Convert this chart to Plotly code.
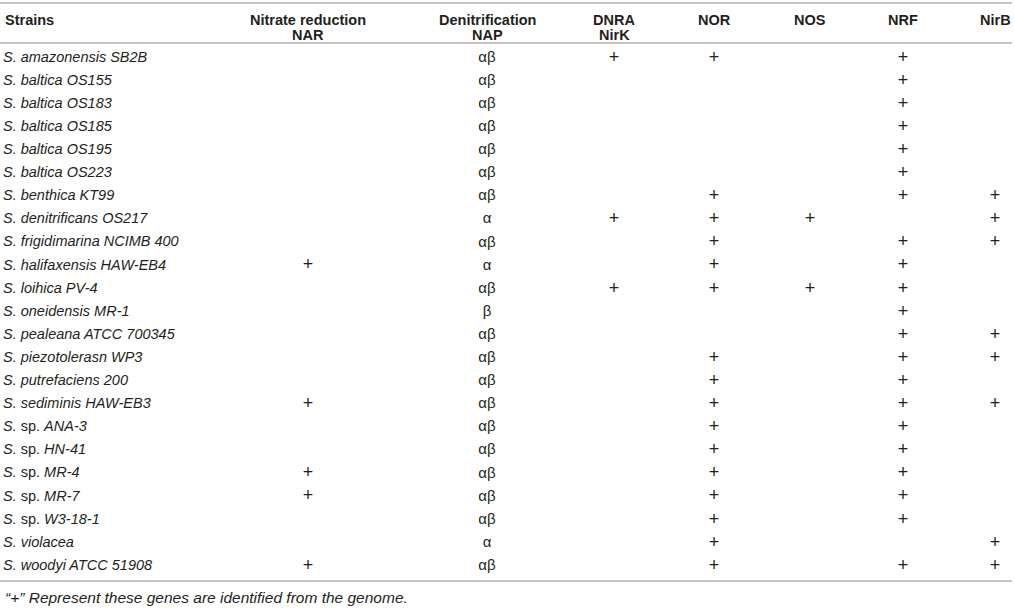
import plotly.graph_objects as go

# ------------------------------- DATA -------------------------------
STRAINS = [
    "<i>S. amazonensis SB2B</i>",
    "<i>S. baltica OS155</i>",
    "<i>S. baltica OS183</i>",
    "<i>S. baltica OS185</i>",
    "<i>S. baltica OS195</i>",
    "<i>S. baltica OS223</i>",
    "<i>S. benthica KT99</i>",
    "<i>S. denitrificans OS217</i>",
    "<i>S. frigidimarina NCIMB 400</i>",
    "<i>S. halifaxensis HAW-EB4</i>",
    "<i>S. loihica PV-4</i>",
    "<i>S. oneidensis MR-1</i>",
    "<i>S. pealeana ATCC 700345</i>",
    "<i>S. piezotolerasn WP3</i>",
    "<i>S. putrefaciens 200</i>",
    "<i>S. sediminis HAW-EB3</i>",
    "<i>S.</i> sp. <i>ANA-3</i>",
    "<i>S.</i> sp. <i>HN-41</i>",
    "<i>S.</i> sp. <i>MR-4</i>",
    "<i>S.</i> sp. <i>MR-7</i>",
    "<i>S.</i> sp. <i>W3-18-1</i>",
    "<i>S. violacea</i>",
    "<i>S. woodyi ATCC 51908</i>",
]

NAR  = ["", "", "", "", "", "", "", "", "", "+", "", "", "", "", "", "+", "", "", "+", "+", "", "", "+"]
NAP  = ["αβ", "αβ", "αβ", "αβ", "αβ", "αβ", "αβ", "α", "αβ", "α", "αβ", "β", "αβ", "αβ", "αβ", "αβ",
        "αβ", "αβ", "αβ", "αβ", "αβ", "α", "αβ"]
NIRK = ["+", "", "", "", "", "", "", "+", "", "", "+", "", "", "", "", "", "", "", "", "", "", "", ""]
NOR  = ["+", "", "", "", "", "", "+", "+", "+", "+", "+", "", "", "+", "+", "+", "+", "+", "+", "+", "+", "+", "+"]
NOS  = ["", "", "", "", "", "", "", "+", "", "", "+", "", "", "", "", "", "", "", "", "", "", "", ""]
NRF  = ["+", "+", "+", "+", "+", "+", "+", "", "+", "+", "+", "+", "+", "+", "+", "+", "+", "+", "+", "+", "+", "", "+"]
NIRB = ["", "", "", "", "", "", "+", "+", "+", "", "", "", "+", "+", "", "+", "", "", "", "", "", "+", "+"]

HEADER_TOP = ["Nitrate reduction", "Denitrification", "DNRA", "NOR", "NOS", "NRF", "NirB"]
HEADER_SUB = ["NAR", "NAP", "NirK", "", "", "", ""]
FOOTNOTE = "<i>“+” Represent these genes are identified from the genome.</i>"

# ------------------------------- LAYOUT -------------------------------
W, H = 1014, 608
COL_X = [308, 487, 614, 714, 810, 903, 995]   # column centres, px
NAME_X = 3
FIRST_ROW_PX, ROW_PITCH = 58, 23.1
TEXT_COLOR = "#231f20"
LINE_COLOR = "#c4c4c4"
FONT = "Liberation Sans"


def py(px):
    """pixel from top -> paper y"""
    return 1 - px / H


columns = [NAR, NAP, NIRK, NOR, NOS, NRF, NIRB]
rows = list(range(len(STRAINS)))

fig = go.Figure()

fig.add_trace(go.Scatter(
    x=[NAME_X] * len(STRAINS), y=rows, text=STRAINS, mode="text",
    textposition="middle right",
    textfont=dict(family=FONT, size=14.5, color=TEXT_COLOR),
    hoverinfo="skip", showlegend=False,
))

for cx, values in zip(COL_X, columns):
    # pluses drawn a bit larger than the greek letters
    sizes = [18 if v == "+" else 15 for v in values]
    fig.add_trace(go.Scatter(
        x=[cx] * len(values), y=rows, text=values, mode="text",
        textposition="middle center",
        textfont=dict(family=FONT, size=sizes, color=TEXT_COLOR),
        hoverinfo="skip", showlegend=False,
    ))

# header texts
hfont = dict(family=FONT, size=14.5, color=TEXT_COLOR)
annotations = [dict(x=NAME_X, y=py(20), xref="x", yref="paper", text="<b>Strains</b>",
                    xanchor="left", yanchor="middle", showarrow=False, font=hfont)]
for cx, top, sub in zip(COL_X, HEADER_TOP, HEADER_SUB):
    annotations.append(dict(x=cx, y=py(20), xref="x", yref="paper", text=f"<b>{top}</b>",
                            xanchor="center", yanchor="middle", showarrow=False, font=hfont))
    if sub:
        annotations.append(dict(x=cx, y=py(35), xref="x", yref="paper", text=f"<b>{sub}</b>",
                                xanchor="center", yanchor="middle", showarrow=False, font=hfont))
annotations.append(dict(x=NAME_X, y=py(597), xref="x", yref="paper", text=FOOTNOTE,
                        xanchor="left", yanchor="middle", showarrow=False,
                        font=dict(family=FONT, size=15.5, color=TEXT_COLOR)))

# horizontal rules
shapes = [
    dict(type="line", xref="x", yref="paper", x0=0, x1=1012, y0=py(p), y1=py(p),
         line=dict(color=LINE_COLOR, width=2))
    for p in (3, 43, 581)
]

y_top = -FIRST_ROW_PX / ROW_PITCH
y_bot = (H - FIRST_ROW_PX) / ROW_PITCH

fig.update_layout(
    width=W, height=H,
    margin=dict(l=0, r=0, t=0, b=0),
    paper_bgcolor="white", plot_bgcolor="white",
    font=dict(family=FONT, size=14, color=TEXT_COLOR),
    xaxis=dict(range=[0, W], visible=False, fixedrange=True),
    yaxis=dict(range=[y_bot, y_top], visible=False, fixedrange=True),
    annotations=annotations,
    shapes=shapes,
)

# drop the page's default body margin so the figure sits at the window's corner
fig.write_html("out.html", config={"displayModeBar": False},
               post_script="document.body.style.margin='0';")
